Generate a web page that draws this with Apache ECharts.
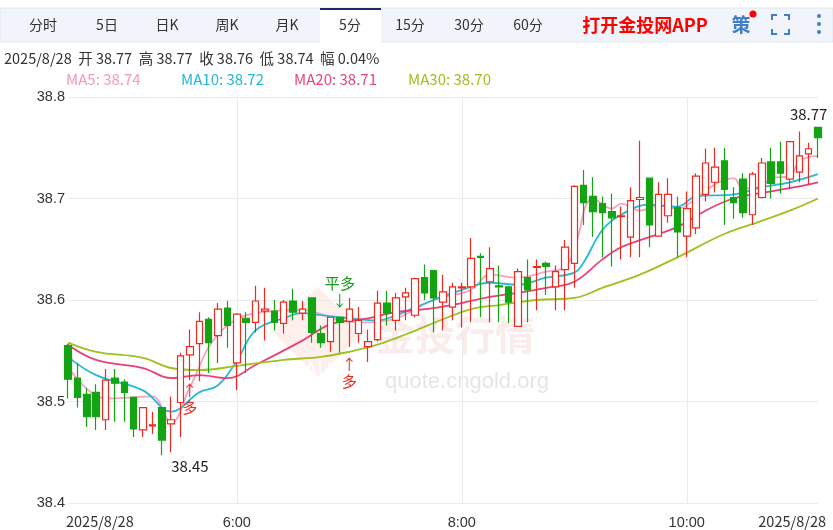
<!DOCTYPE html>
<html><head><meta charset="utf-8">
<script src="https://cdn.jsdelivr.net/npm/echarts@6/dist/echarts.min.js"></script>
<style>html,body{margin:0;padding:0;background:#fff;}#c{width:833px;height:530px;}</style>
</head><body><div id="c"></div>
<script>
// OHLC: [open, close, low, high]
const ohlc = [
[38.555,38.522,38.503,38.557],[38.523,38.504,38.494,38.538],[38.507,38.485,38.475,38.513],[38.509,38.485,38.472,38.517],
[38.482,38.521,38.472,38.532],[38.523,38.518,38.480,38.532],[38.519,38.509,38.480,38.522],[38.504,38.473,38.465,38.505],
[38.472,38.494,38.465,38.494],[38.476,38.477,38.468,38.490],[38.494,38.462,38.447,38.494],[38.478,38.482,38.450,38.505],
[38.499,38.545,38.465,38.548],[38.546,38.554,38.521,38.571],[38.557,38.579,38.520,38.588],[38.581,38.558,38.528,38.583],
[38.565,38.591,38.538,38.597],[38.592,38.575,38.553,38.599],[38.538,38.586,38.511,38.587],[38.582,38.578,38.528,38.588],
[38.578,38.599,38.568,38.614],[38.589,38.591,38.560,38.612],[38.589,38.578,38.570,38.600],[38.577,38.598,38.567,38.600],
[38.599,38.588,38.580,38.611],[38.587,38.591,38.580,38.599],[38.602,38.568,38.558,38.602],[38.567,38.558,38.553,38.575],
[38.559,38.583,38.549,38.583],[38.583,38.578,38.548,38.583],[38.579,38.591,38.554,38.602],[38.567,38.580,38.558,38.593],
[38.554,38.559,38.539,38.571],[38.561,38.597,38.559,38.609],[38.597,38.587,38.575,38.609],[38.580,38.602,38.570,38.607],
[38.603,38.607,38.580,38.612],[38.585,38.621,38.583,38.622],[38.622,38.607,38.600,38.635],[38.629,38.602,38.568,38.629],
[38.598,38.608,38.570,38.625],[38.593,38.613,38.580,38.617],[38.612,38.613,38.573,38.617],[38.613,38.641,38.578,38.661],
[38.643,38.642,38.583,38.646],[38.618,38.631,38.578,38.652],[38.614,38.613,38.578,38.634],[38.613,38.598,38.577,38.613],
[38.574,38.628,38.574,38.631],[38.622,38.610,38.578,38.640],[38.632,38.633,38.590,38.640],[38.636,38.633,38.605,38.638],
[38.613,38.628,38.590,38.634],[38.630,38.652,38.590,38.659],[38.636,38.712,38.612,38.713],[38.713,38.696,38.674,38.728],
[38.702,38.687,38.662,38.721],[38.695,38.686,38.642,38.702],[38.687,38.681,38.633,38.705],[38.682,38.683,38.640,38.692],
[38.662,38.698,38.642,38.711],[38.699,38.701,38.642,38.757],[38.720,38.674,38.652,38.720],[38.663,38.704,38.663,38.716],
[38.683,38.704,38.676,38.720],[38.691,38.667,38.642,38.702],[38.663,38.690,38.642,38.707],[38.671,38.722,38.665,38.725],
[38.704,38.735,38.697,38.749],[38.716,38.731,38.706,38.750],[38.737,38.709,38.674,38.750],[38.701,38.696,38.680,38.711],
[38.719,38.686,38.681,38.725],[38.684,38.724,38.674,38.726],[38.701,38.735,38.700,38.740],[38.736,38.715,38.700,38.750],
[38.736,38.725,38.705,38.756],[38.719,38.756,38.709,38.756],[38.726,38.742,38.716,38.766],[38.744,38.749,38.714,38.755],
[38.770,38.760,38.740,38.770]
];
const ma5 = [[0,38.534],[4,38.503],[7,38.504],[9,38.505],[11,38.479],[13,38.514],[16,38.566],[20,38.587],[25,38.590],[29,38.580],[32,38.578],[35,38.582],[39,38.600],[43,38.610],[45,38.625],[48,38.622],[51,38.628],[53,38.632],[54,38.650],[56,38.700],[58,38.690],[59,38.695],[61,38.688],[63,38.693],[65,38.690],[67,38.700],[69,38.714],[70,38.718],[71,38.720],[72,38.710],[74,38.712],[75,38.720],[77,38.722],[78,38.737],[80,38.742]];
const ma10 = [[0,38.544],[3,38.526],[8,38.511],[11,38.490],[14,38.509],[16,38.516],[18,38.540],[20,38.570],[23,38.582],[25,38.587],[27,38.585],[30,38.582],[33,38.580],[35,38.585],[39,38.600],[42,38.610],[45,38.617],[48,38.615],[51,38.622],[54,38.627],[55,38.637],[57,38.669],[59,38.684],[62,38.694],[65,38.692],[67,38.702],[71,38.704],[74,38.711],[77,38.716],[80,38.724]];
const ma20 = [[0,38.556],[3,38.541],[8,38.533],[11,38.523],[14,38.526],[17,38.523],[20,38.536],[25,38.560],[28,38.576],[32,38.582],[35,38.588],[39,38.592],[42,38.597],[45,38.603],[48,38.607],[51,38.612],[54,38.618],[57,38.640],[59,38.652],[62,38.662],[65,38.672],[68,38.688],[71,38.700],[75,38.707],[78,38.712],[80,38.716]];
const ma30 = [[0,38.558],[3,38.549],[8,38.543],[11,38.533],[14,38.531],[18,38.535],[23,38.541],[27,38.544],[30,38.549],[33,38.556],[36,38.566],[40,38.581],[43,38.591],[46,38.595],[50,38.600],[54,38.602],[57,38.612],[61,38.625],[65,38.642],[70,38.665],[74,38.678],[77,38.688],[80,38.700]];
const yTicks = [38.4, 38.5, 38.6, 38.7, 38.8];
const xLabelIdx = {18:'6:00', 42:'8:00', 66:'10:00'};
const tabs = ['分时','5日','日K','周K','月K','5分','15分','30分','60分'];
const tabX = [43,107,167,227,287,350,410,469,528];
const infoText = '2025/8/28  开 38.77  高 38.77  收 38.76  低 38.74  幅 0.04%';
const legendItems = [['MA5: 38.74','#f49ab5',66],['MA10: 38.72','#22b8d6',181],['MA20: 38.71','#e9457c',294],['MA30: 38.70','#9ebf1e',408]];
// annotations: [index, price, text, colour, position]
const notes = [
  [79,38.772,'38.77','#222','top'],
  [13,38.447,'38.45','#222','bottom'],
  [29,38.588,'平多\n↓','#1a9a1a','top'],
  [30,38.548,'↑\n多','#f0281e','bottom'],
  [13,38.522,'↑\n多','#f0281e','bottom']
];

const cats = ohlc.map((d,i)=>String(i));
const UP='#f0281e', DOWN='#13a313';
const chart = echarts.init(document.getElementById('c'));
const F='"Microsoft YaHei","Noto Sans CJK SC",Arial,sans-serif';
const graphics = [
  {type:'rect',shape:{x:0,y:8,width:833,height:34},style:{fill:'#f1f5fb',stroke:'#e1e7ef'},z:1},
  {type:'rect',shape:{x:320,y:8,width:61,height:35},style:{fill:'#fff'},z:2},
  {type:'rect',shape:{x:320,y:8,width:61,height:2},style:{fill:'#1a2b6b'},z:3},
];
tabs.forEach((t,i)=>graphics.push({type:'text',x:tabX[i],y:25,z:4,style:{text:t,fill:'#333',font:'14px '+F,align:'center',verticalAlign:'middle'}}));
graphics.push({type:'text',x:645,y:25,z:4,style:{text:'打开金投网APP',fill:'#f00',font:'bold 18px '+F,align:'center',verticalAlign:'middle'}});
graphics.push({type:'text',x:741,y:25,z:4,style:{text:'策',fill:'#3f7fc9',font:'bold 19px '+F,align:'center',verticalAlign:'middle'}});
graphics.push({type:'circle',shape:{cx:753,cy:14,r:3.5},style:{fill:'#f00'},z:5});
graphics.push({type:'polyline',shape:{points:[[772,20],[772,15],[777,15]]},style:{stroke:'#3f7fc9',lineWidth:2,fill:null},z:4});
graphics.push({type:'polyline',shape:{points:[[784,15],[789,15],[789,20]]},style:{stroke:'#3f7fc9',lineWidth:2,fill:null},z:4});
graphics.push({type:'polyline',shape:{points:[[772,29],[772,34],[777,34]]},style:{stroke:'#3f7fc9',lineWidth:2,fill:null},z:4});
graphics.push({type:'polyline',shape:{points:[[784,34],[789,34],[789,29]]},style:{stroke:'#3f7fc9',lineWidth:2,fill:null},z:4});
[16,24,32].forEach(y=>graphics.push({type:'circle',shape:{cx:819,cy:y,r:2},style:{fill:'#3f7fc9'},z:4}));
graphics.push({type:'text',x:4,y:58,style:{text:infoText,fill:'#333',font:'14.5px '+F,verticalAlign:'middle'}});
legendItems.forEach(l=>graphics.push({type:'text',x:l[2],y:79,style:{text:l[0],fill:l[1],font:'15px '+F,verticalAlign:'middle'}}));
graphics.push({type:'text',x:66,y:521,style:{text:'2025/8/28',fill:'#333',font:'14.5px '+F,verticalAlign:'middle'}});
graphics.push({type:'text',x:826,y:521,style:{text:'2025/8/28',fill:'#333',font:'14.5px '+F,align:'right',verticalAlign:'middle'}});
// watermark
graphics.push({type:'rect',x:318,y:332,rotation:Math.PI/4,shape:{x:-32,y:-32,width:64,height:64},style:{fill:'rgba(230,120,100,0.12)'},z:0});
graphics.push({type:'text',x:318,y:370,style:{text:'AU',fill:'rgba(255,255,255,0.9)',font:'20px Arial',align:'center',verticalAlign:'middle'},z:0});
graphics.push({type:'text',x:455,y:335,style:{text:'金投行情',fill:'rgba(230,150,140,0.18)',font:'bold 40px '+F,align:'center',verticalAlign:'middle'},z:0});
graphics.push({type:'text',x:467,y:382,style:{text:'quote.cngold.org',fill:'rgba(170,170,170,0.3)',font:'22px Arial',align:'center',verticalAlign:'middle'},z:0});

const lineS=(name,data,color)=>({name,type:'line',data,smooth:0.4,symbol:'none',lineStyle:{width:1.8,color},z:3,silent:true});
chart.setOption({
  animation:false,
  graphic:graphics,
  grid:{left:68,right:15,top:97,bottom:27},
  xAxis:{type:'category',data:cats,boundaryGap:false,
    axisLine:{show:false},axisTick:{show:false},
    axisLabel:{interval:(i)=>xLabelIdx[i]!==undefined,formatter:(v,i)=>xLabelIdx[i]||'',color:'#333',fontSize:14.5,margin:12},
    splitLine:{show:true,interval:(i)=>xLabelIdx[i]!==undefined,lineStyle:{color:'#ebebeb'}}},
  yAxis:{type:'value',min:yTicks[0],max:yTicks[yTicks.length-1],interval:0.1,
    axisLine:{show:false},axisTick:{show:false},
    axisLabel:{color:'#333',fontSize:14.5,formatter:v=>v.toFixed(1),margin:3},
    splitLine:{lineStyle:{color:'#ebebeb'}}},
  series:[
    {type:'candlestick',data:ohlc,barWidth:7,clip:false,z:4,
      itemStyle:{color:'#fff',color0:DOWN,borderColor:UP,borderColor0:DOWN,borderWidth:1.2}},
    lineS('MA5',ma5,'#f7a3bd'),
    lineS('MA10',ma10,'#26b9d8'),
    lineS('MA20',ma20,'#ea3f78'),
    lineS('MA30',ma30,'#9dc11f'),
    {type:'scatter',z:6,silent:true,symbolSize:2,clip:false,
      data:notes.map(n=>({value:[n[0],n[1]],itemStyle:{color:'rgba(0,0,0,0)'},
        label:{show:true,formatter:n[2],color:n[3],opacity:1,position:n[4],distance:2,fontSize:15,lineHeight:17,fontFamily:F}}))}
  ]
});
</script></body></html>
